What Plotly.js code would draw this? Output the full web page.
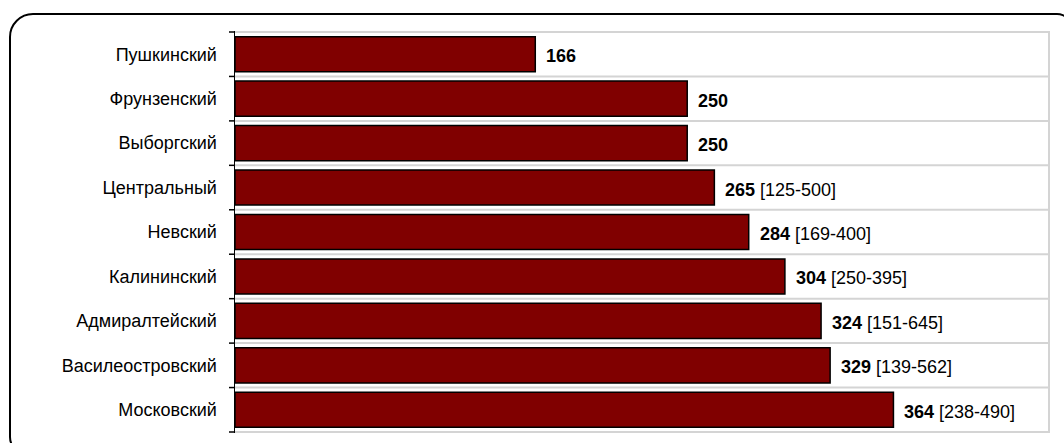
<!DOCTYPE html>
<html>
<head>
<meta charset="utf-8">
<script src="https://cdn.plot.ly/plotly-3.0.1.min.js"></script>
<style>
  html, body { margin: 0; padding: 0; background: #fff; overflow: hidden; }
  #chart { position: absolute; left: 0; top: 0; width: 1064px; height: 443px; }
  #frame { position: absolute; left: 9px; top: 13px; width: 1064px; height: 442px;
           border: 2px solid #000; border-radius: 24px 16px 16px 18px; pointer-events: none; box-sizing: border-box; }
</style>
</head>
<body>
<div id="chart"></div>
<div id="frame"></div>
<script>
const districts = ["Пушкинский", "Фрунзенский", "Выборгский", "Центральный", "Невский",
                   "Калининский", "Адмиралтейский", "Василеостровский", "Московский"];
const medians = [166, 250, 250, 265, 284, 304, 324, 329, 364];
const lowValues = [null, null, null, 125, 169, 250, 151, 139, 238];
const highValues = [null, null, null, 500, 400, 395, 645, 562, 490];

const FONT = "Liberation Sans, Arial, sans-serif";

const annotations = districts.map((d, i) => ({
  x: medians[i], y: d, xref: "x", yref: "y",
  xanchor: "left", yanchor: "middle", xshift: 9, yshift: -2,
  showarrow: false,
  text: "<b>" + medians[i] + "</b>" + (lowValues[i] !== null ? " [" + lowValues[i] + "-" + highValues[i] + "]" : ""),
  font: { family: FONT, size: 18, color: "#000" }
}));

const boundaries = districts.concat([null]).map((d, i) => i - 0.5);

// category boundary gridlines
const gridShapes = boundaries.map(b => ({
  type: "line", xref: "paper", yref: "y", x0: 0, x1: 1, y0: b, y1: b,
  line: { color: "#d4d4d4", width: 2 }, layer: "below"
}));

// outside tick marks at category boundaries, 6 px long, left of the axis
const tickShapes = boundaries.map(b => ({
  type: "line", xref: "paper", yref: "y", xsizemode: "pixel", xanchor: 0,
  x0: -6, x1: 0, y0: b, y1: b,
  line: { color: "#000", width: 1.5 }, layer: "above"
}));

const trace = {
  type: "bar", orientation: "h",
  y: districts, x: medians,
  marker: { color: "#800000", line: { color: "#000", width: 1.5 } },
  hoverinfo: "none"
};

const layout = {
  width: 1064, height: 443,
  margin: { l: 235, r: 15, t: 31, b: 10, pad: 0 },
  paper_bgcolor: "rgba(0,0,0,0)", plot_bgcolor: "rgba(0,0,0,0)",
  bargap: 0.21,
  showlegend: false,
  xaxis: { range: [0, 450], showgrid: false, zeroline: false, showticklabels: false, ticks: "", showline: false },
  yaxis: {
    type: "category", autorange: "reversed",
    showline: true, linecolor: "#000", linewidth: 1.5,
    ticks: "", showgrid: false,
    ticklabelstandoff: 13,
    tickfont: { family: FONT, size: 18, color: "#000" }
  },
  shapes: gridShapes.concat(tickShapes, [{
    type: "line", xref: "paper", yref: "paper", x0: 1, x1: 1, y0: 0, y1: 1,
    line: { color: "#d4d4d4", width: 2 }, layer: "below"
  }]),
  annotations: annotations
};

Plotly.newPlot("chart", [trace], layout, { staticPlot: true, displayModeBar: false });
</script>
</body>
</html>
